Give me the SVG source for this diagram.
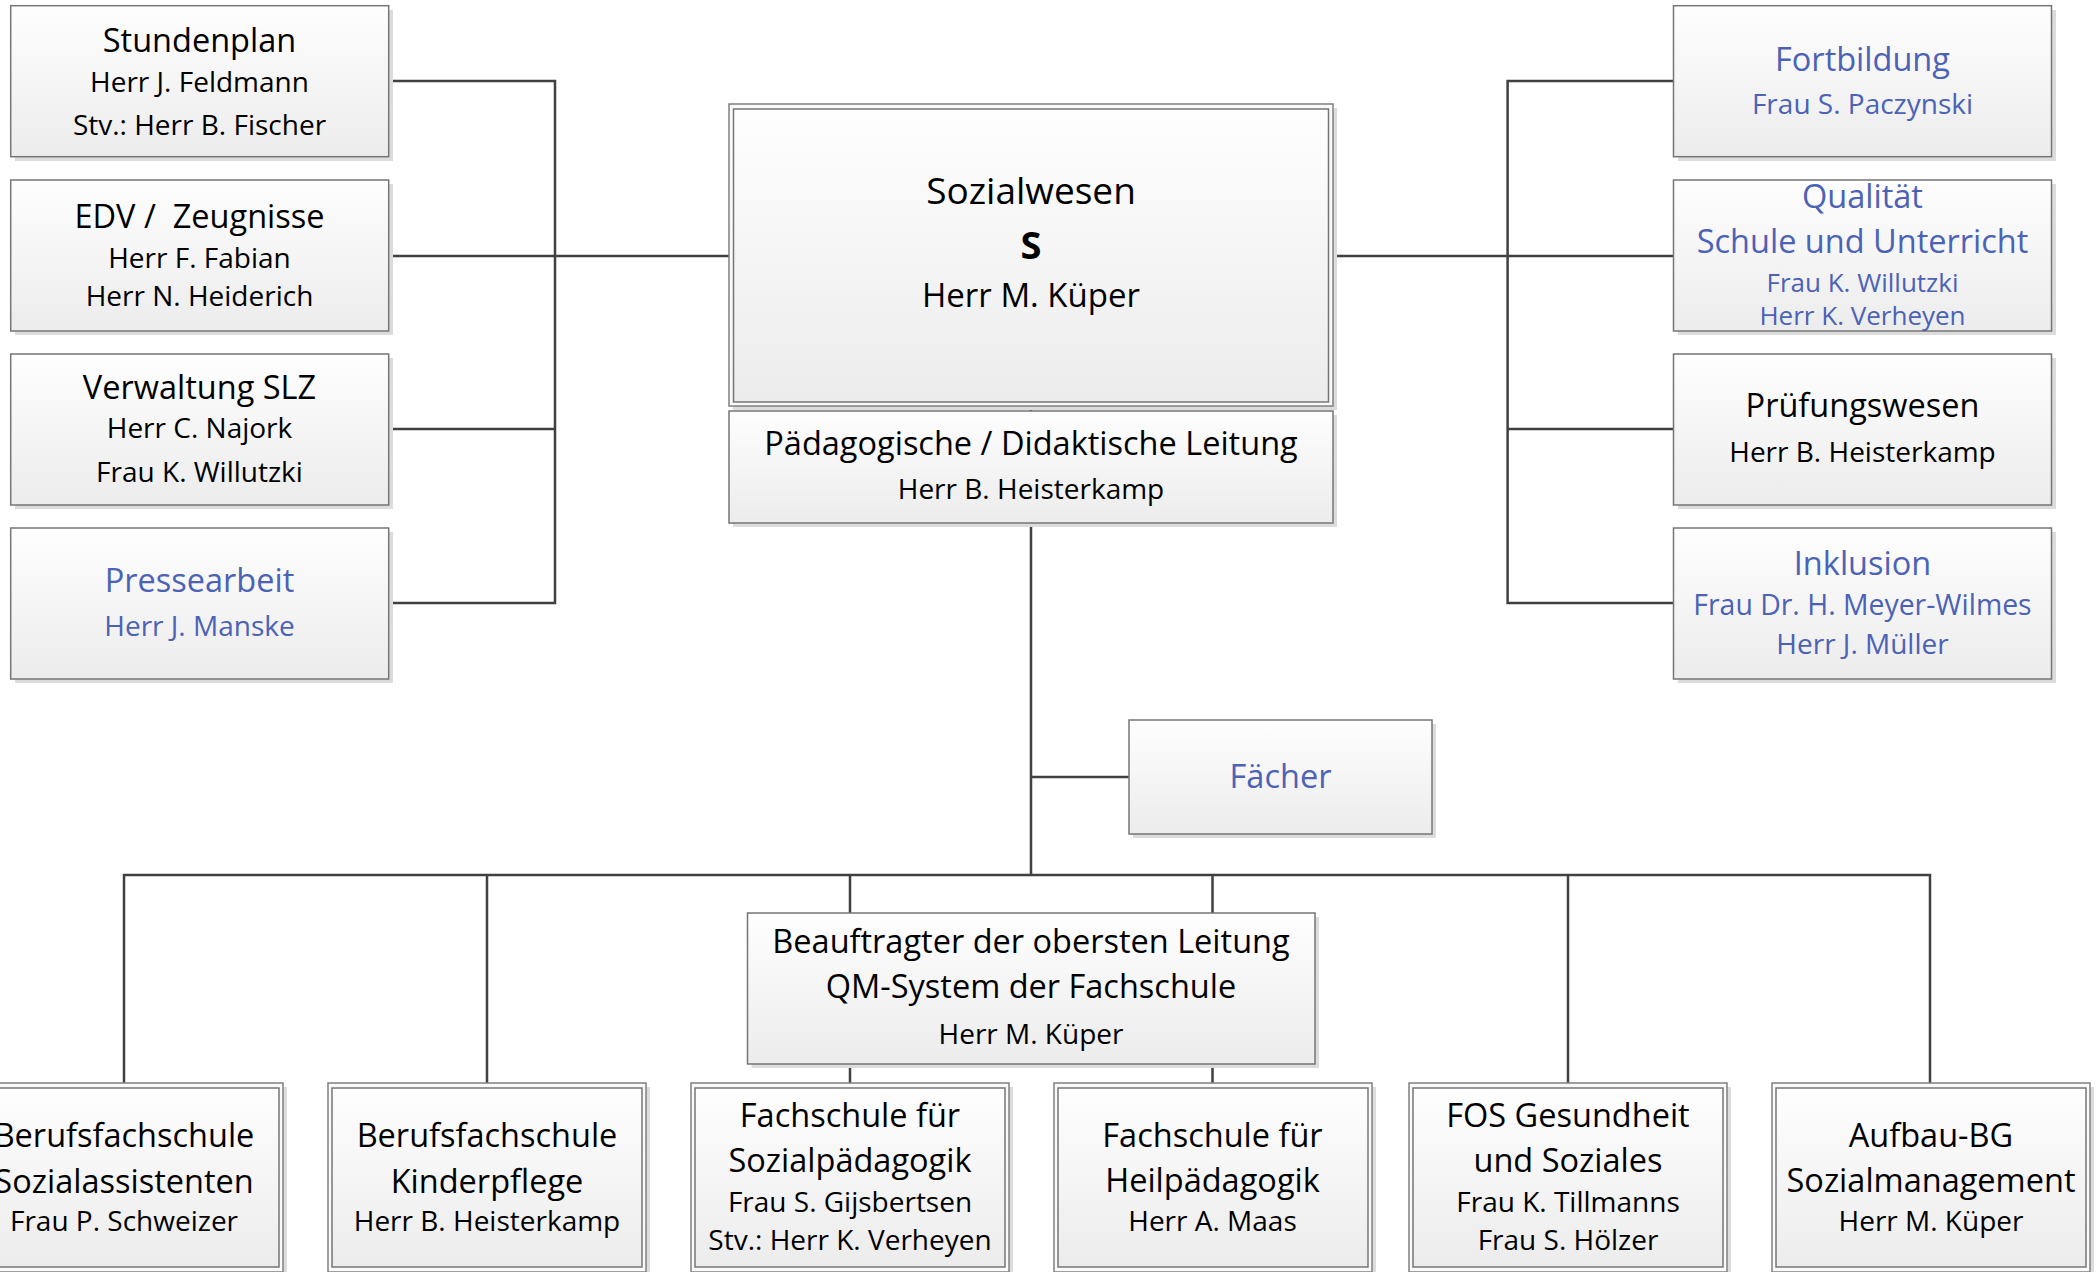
<svg xmlns="http://www.w3.org/2000/svg" width="2098" height="1272" viewBox="0 0 2098 1272">
<defs>
<linearGradient id="g" x1="0" y1="0" x2="0" y2="1">
<stop offset="0" stop-color="#fefefe"/>
<stop offset="1" stop-color="#ececec"/>
</linearGradient>
<style>
.box{fill:url(#g);stroke:#767676;stroke-width:1.5}
.out{fill:#fafafa;stroke:#808080;stroke-width:1.5}
.sh{fill:#dcdcdc}
.conn{stroke:#404040;stroke-width:2.5;fill:none}
text{font-family:"Open Sans","Noto Sans",sans-serif;text-anchor:middle;fill:#000}
.ti{font-size:32.5px}
.nm{font-size:28px}
.sm{font-size:26px}
.bt{font-size:32.5px}
.blue{fill:#4b62b6}
</style>
</defs>
<rect width="2098" height="1272" fill="#fff"/>
<g id="connectors">
<path class="conn" d="M389,81 H555 V603 H389 M389,429 H555 M389,256 H729"/>
<path class="conn" d="M1673.5,81 H1507.6 V603 H1673.5 M1673.5,429 H1507.6 M1333,256 H1673.5"/>
<path class="conn" d="M1031,406 V411 M1031,523 V875 M1031,777 H1129"/>
<path class="conn" d="M124,1083 V875 H1930 V1083 M487,875 V1083 M850,875 V1083 M1212.5,875 V1083 M1568,875 V1083"/>
</g>
<g id="stundenplan">
<rect class="sh" x="15" y="10" width="378" height="151"/>
<rect class="box" x="10.7" y="5.7" width="378" height="151"/>
<text class="ti" x="199.5" y="52">Stundenplan</text>
<text class="nm" x="199.5" y="92">Herr J. Feldmann</text>
<text class="nm" x="199.5" y="135">Stv.: Herr B. Fischer</text>
</g>
<g id="edv">
<rect class="sh" x="15" y="184" width="378" height="151"/>
<rect class="box" x="10.7" y="180" width="378" height="151"/>
<text class="ti" x="199.5" y="228" xml:space="preserve" style="white-space:pre">EDV /  Zeugnisse</text>
<text class="nm" x="199.5" y="268">Herr F. Fabian</text>
<text class="nm" x="199.5" y="306">Herr N. Heiderich</text>
</g>
<g id="verwaltung">
<rect class="sh" x="15" y="358" width="378" height="151"/>
<rect class="box" x="10.7" y="354" width="378" height="151"/>
<text class="ti" x="199.5" y="399">Verwaltung SLZ</text>
<text class="nm" x="199.5" y="438">Herr C. Najork</text>
<text class="nm" x="199.5" y="482">Frau K. Willutzki</text>
</g>
<g id="pressearbeit">
<rect class="sh" x="15" y="532" width="378" height="151"/>
<rect class="box" x="10.7" y="528" width="378" height="151"/>
<text class="ti blue" x="199.5" y="592">Pressearbeit</text>
<text class="nm blue" x="199.5" y="636">Herr J. Manske</text>
</g>
<g id="fortbildung">
<rect class="sh" x="1678" y="10" width="378" height="151"/>
<rect class="box" x="1673.5" y="5.7" width="378" height="151"/>
<text class="ti blue" x="1862.5" y="71">Fortbildung</text>
<text class="nm blue" x="1862.5" y="114">Frau S. Paczynski</text>
</g>
<g id="qualitaet">
<rect class="sh" x="1678" y="184" width="378" height="151"/>
<rect class="box" x="1673.5" y="180" width="378" height="151"/>
<text class="ti blue" x="1862.5" y="208">Qualität</text>
<text class="ti blue" x="1862.5" y="253">Schule und Unterricht</text>
<text class="sm blue" x="1862.5" y="292">Frau K. Willutzki</text>
<text class="sm blue" x="1862.5" y="325">Herr K. Verheyen</text>
</g>
<g id="pruefungswesen">
<rect class="sh" x="1678" y="358" width="378" height="151"/>
<rect class="box" x="1673.5" y="354" width="378" height="151"/>
<text class="ti" x="1862.5" y="417">Prüfungswesen</text>
<text class="nm" x="1862.5" y="462">Herr B. Heisterkamp</text>
</g>
<g id="inklusion">
<rect class="sh" x="1678" y="532" width="378" height="151"/>
<rect class="box" x="1673.5" y="528" width="378" height="151"/>
<text class="ti blue" x="1862.5" y="575">Inklusion</text>
<text class="nm blue" x="1862.5" y="615" style="font-size:28.4px">Frau Dr. H. Meyer-Wilmes</text>
<text class="nm blue" x="1862.5" y="654">Herr J. Müller</text>
</g>
<g id="sozialwesen">
<rect class="sh" x="733" y="108" width="604" height="302"/>
<rect class="out" x="729" y="104" width="604" height="302"/>
<rect class="box" x="733.5" y="109" width="595" height="293"/>
<text x="1031" y="204" style="font-size:37px">Sozialwesen</text>
<text x="1031" y="259" style="font-size:38px;font-weight:bold">S</text>
<text x="1031" y="307" style="font-size:33px">Herr M. Küper</text>
</g>
<g id="paedagogische-leitung">
<rect class="sh" x="733" y="415" width="604" height="112"/>
<rect class="box" x="729" y="411" width="604" height="112"/>
<text class="ti" x="1031" y="455">Pädagogische / Didaktische Leitung</text>
<text class="nm" x="1031" y="499">Herr B. Heisterkamp</text>
</g>
<g id="faecher">
<rect class="sh" x="1133" y="724" width="303" height="114"/>
<rect class="box" x="1129" y="720" width="303" height="114"/>
<text class="ti blue" x="1280.5" y="788">Fächer</text>
</g>
<g id="beauftragter">
<rect class="sh" x="751.5" y="917" width="567.5" height="151"/>
<rect class="box" x="747.5" y="913" width="567.5" height="151"/>
<text class="ti" x="1031" y="953">Beauftragter der obersten Leitung</text>
<text class="ti" x="1031" y="998">QM-System der Fachschule</text>
<text class="nm" x="1031" y="1044">Herr M. Küper</text>
</g>
<g id="bfs-sozialassistenten">
<rect class="sh" x="-31" y="1087" width="318" height="190"/>
<rect class="out" x="-35" y="1083" width="318" height="189"/>
<rect class="box" x="-31" y="1088" width="310" height="179"/>
<text class="bt" x="124" y="1147">Berufsfachschule</text>
<text class="bt" x="124" y="1193">Sozialassistenten</text>
<text class="nm" x="124" y="1231">Frau P. Schweizer</text>
</g>
<g id="bfs-kinderpflege">
<rect class="sh" x="332" y="1087" width="318" height="190"/>
<rect class="out" x="328" y="1083" width="318" height="189"/>
<rect class="box" x="332" y="1088" width="310" height="179"/>
<text class="bt" x="487" y="1147">Berufsfachschule</text>
<text class="bt" x="487" y="1193">Kinderpflege</text>
<text class="nm" x="487" y="1231">Herr B. Heisterkamp</text>
</g>
<g id="fs-sozialpaedagogik">
<rect class="sh" x="695" y="1087" width="318" height="190"/>
<rect class="out" x="691" y="1083" width="318" height="189"/>
<rect class="box" x="695" y="1088" width="310" height="179"/>
<text class="bt" x="850" y="1127">Fachschule für</text>
<text class="bt" x="850" y="1172">Sozialpädagogik</text>
<text class="nm" x="850" y="1212">Frau S. Gijsbertsen</text>
<text class="nm" x="850" y="1250">Stv.: Herr K. Verheyen</text>
</g>
<g id="fs-heilpaedagogik">
<rect class="sh" x="1058" y="1087" width="318" height="190"/>
<rect class="out" x="1054" y="1083" width="318" height="189"/>
<rect class="box" x="1058" y="1088" width="310" height="179"/>
<text class="bt" x="1212.5" y="1147">Fachschule für</text>
<text class="bt" x="1212.5" y="1192">Heilpädagogik</text>
<text class="nm" x="1212.5" y="1231">Herr A. Maas</text>
</g>
<g id="fos">
<rect class="sh" x="1413" y="1087" width="318" height="190"/>
<rect class="out" x="1409" y="1083" width="318" height="189"/>
<rect class="box" x="1413" y="1088" width="310" height="179"/>
<text class="bt" x="1568" y="1127">FOS Gesundheit</text>
<text class="bt" x="1568" y="1172">und Soziales</text>
<text class="nm" x="1568" y="1212">Frau K. Tillmanns</text>
<text class="nm" x="1568" y="1250">Frau S. Hölzer</text>
</g>
<g id="aufbau-bg">
<rect class="sh" x="1776" y="1087" width="318" height="190"/>
<rect class="out" x="1772" y="1083" width="318" height="189"/>
<rect class="box" x="1776" y="1088" width="310" height="179"/>
<text class="bt" x="1931" y="1147">Aufbau-BG</text>
<text class="bt" x="1931" y="1192">Sozialmanagement</text>
<text class="nm" x="1931" y="1231">Herr M. Küper</text>
</g>
</svg>
